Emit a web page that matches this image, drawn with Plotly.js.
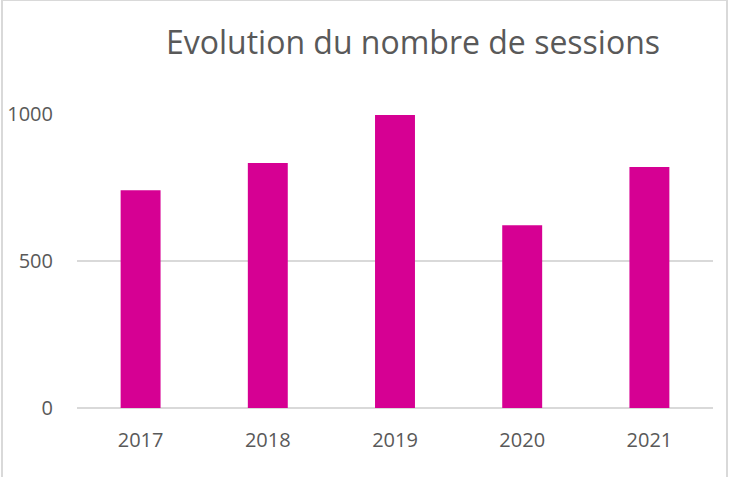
<!DOCTYPE html>
<html>
<head>
<meta charset="utf-8">
<script src="https://cdn.plot.ly/plotly-3.0.1.min.js"></script>
<style>
html,body{margin:0;padding:0;background:#fff;}
#wrap{position:relative;width:729px;height:477px;}
#chart{width:729px;height:477px;}
#frame{position:absolute;left:1px;top:0;width:727px;height:477px;border-left:2px solid #d9d9d9;border-right:2px solid #d9d9d9;border-top:1px solid #d9d9d9;box-sizing:border-box;pointer-events:none;}
</style>
</head>
<body>
<div id="wrap"><div id="chart"></div><div id="frame"></div></div>
<script>
const years = ['2017', '2018', '2019', '2020', '2021'];
const sessions = [741, 833, 997, 622, 820];
const yTicks = [0, 500, 1000];

const fam = 'Open Sans, sans-serif';

Plotly.newPlot('chart', [{
  type: 'bar',
  x: years,
  y: sessions,
  marker: {color: '#d60093'},
  hoverinfo: 'x+y'
}], {
  width: 729,
  height: 477,
  margin: {l: 77, r: 16, t: 114, b: 69},
  paper_bgcolor: '#fff',
  plot_bgcolor: '#fff',
  bargap: 0.686,
  showlegend: false,
  title: {
    text: 'Evolution du nombre de sessions',
    x: 413 / 729,
    xanchor: 'center',
    y: 1 - 43 / 477,
    yanchor: 'middle',
    yref: 'container',
    font: {family: fam, color: '#595959', size: 32}
  },
  xaxis: {
    type: 'category',
    tickfont: {family: fam, color: '#595959', size: 20},
    showgrid: false,
    showline: false,
    ticks: '',
    ticklabelstandoff: 18
  },
  yaxis: {
    range: [0, 1000],
    tickvals: yTicks,
    ticktext: yTicks.map(String),
    tickfont: {family: fam, color: '#595959', size: 20},
    showgrid: true,
    gridcolor: '#d9d9d9',
    gridwidth: 2,
    zeroline: true,
    zerolinecolor: '#d9d9d9',
    zerolinewidth: 2,
    showline: false,
    ticks: '',
    ticklabelstandoff: 23
  }
}, {displayModeBar: false, staticPlot: true});
</script>
</body>
</html>
